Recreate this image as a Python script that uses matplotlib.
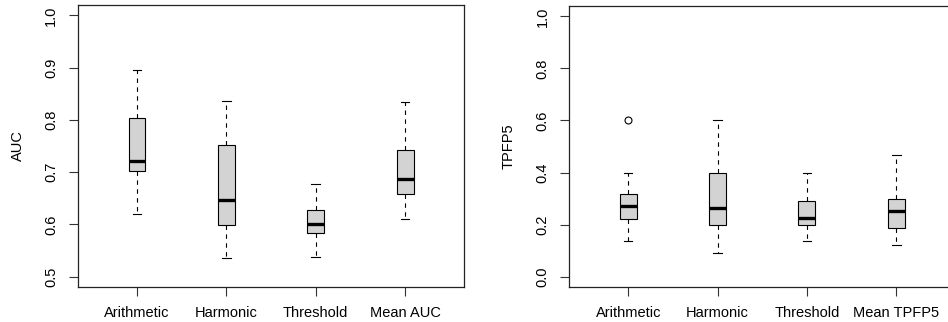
import matplotlib
matplotlib.use("Agg")
import matplotlib.pyplot as plt

plt.rcParams['font.family'] = ['Liberation Sans', 'DejaVu Sans']

# AUC panel
auc_labels = ["Arithmetic", "Harmonic", "Threshold", "Mean AUC"]
auc_whislo = [0.619, 0.535, 0.538, 0.611]
auc_q1 = [0.703, 0.599, 0.583, 0.659]
auc_med = [0.722, 0.647, 0.601, 0.687]
auc_q3 = [0.804, 0.752, 0.628, 0.742]
auc_whishi = [0.896, 0.837, 0.678, 0.834]
auc_fliers = [[], [], [], []]

# TPFP5 panel
tp_labels = ["Arithmetic", "Harmonic", "Threshold", "Mean TPFP5"]
tp_whislo = [0.137, 0.090, 0.137, 0.120]
tp_q1 = [0.222, 0.199, 0.199, 0.185]
tp_med = [0.273, 0.264, 0.226, 0.251]
tp_q3 = [0.317, 0.400, 0.290, 0.300]
tp_whishi = [0.400, 0.600, 0.400, 0.467]
tp_fliers = [[0.600], [], [], []]


def make_stats(labels, lo, q1, med, q3, hi, fl):
    return [dict(label=l, whislo=a, q1=b, med=c, q3=d, whishi=e, fliers=f)
            for l, a, b, c, d, e, f in zip(labels, lo, q1, med, q3, hi, fl)]


def draw_panel(ax, stats, ylabel, ylim, yticks):
    ax.bxp(stats, positions=range(1, len(stats) + 1), widths=0.19,
           patch_artist=True, showfliers=True,
           boxprops=dict(facecolor="#d3d3d3", edgecolor="black", linewidth=0.8),
           medianprops=dict(color="black", linewidth=2.4, solid_capstyle="butt"),
           whiskerprops=dict(color="black", linewidth=0.8, linestyle=(0, (4, 4))),
           capprops=dict(color="black", linewidth=0.8),
           flierprops=dict(marker="o", markerfacecolor="none", markeredgecolor="black",
                           markersize=5, markeredgewidth=0.8))
    ax.set_xlim(0.34, 4.66)
    ax.set_ylim(*ylim)
    ax.set_yticks(yticks)
    ax.set_yticklabels(["%.1f" % t for t in yticks], rotation=90, va="center")
    ax.set_ylabel(ylabel, fontsize=10.5, labelpad=14)
    ax.tick_params(axis="both", direction="out", length=6.3, width=0.8,
                   labelsize=10.5, color="#333333")
    ax.tick_params(axis="x", pad=7.5)
    ax.tick_params(axis="y", pad=8)
    for s in ax.spines.values():
        s.set_linewidth(0.9)
        s.set_color("#222222")


fig = plt.figure(figsize=(9.48, 3.22), dpi=100)
ax1 = fig.add_axes([0.0823, 0.1087, 0.4072, 0.8758])
ax2 = fig.add_axes([0.6005, 0.1087, 0.4072, 0.8727])

draw_panel(ax1, make_stats(auc_labels, auc_whislo, auc_q1, auc_med, auc_q3, auc_whishi, auc_fliers),
           "AUC", (0.48, 1.02), [0.5, 0.6, 0.7, 0.8, 0.9, 1.0])
draw_panel(ax2, make_stats(tp_labels, tp_whislo, tp_q1, tp_med, tp_q3, tp_whishi, tp_fliers),
           "TPFP5", (-0.04, 1.04), [0.0, 0.2, 0.4, 0.6, 0.8, 1.0])
# right panel runs past the figure edge in the original, so its right border is not seen
ax2.spines["right"].set_visible(False)

fig.savefig("out.png", dpi=100)
